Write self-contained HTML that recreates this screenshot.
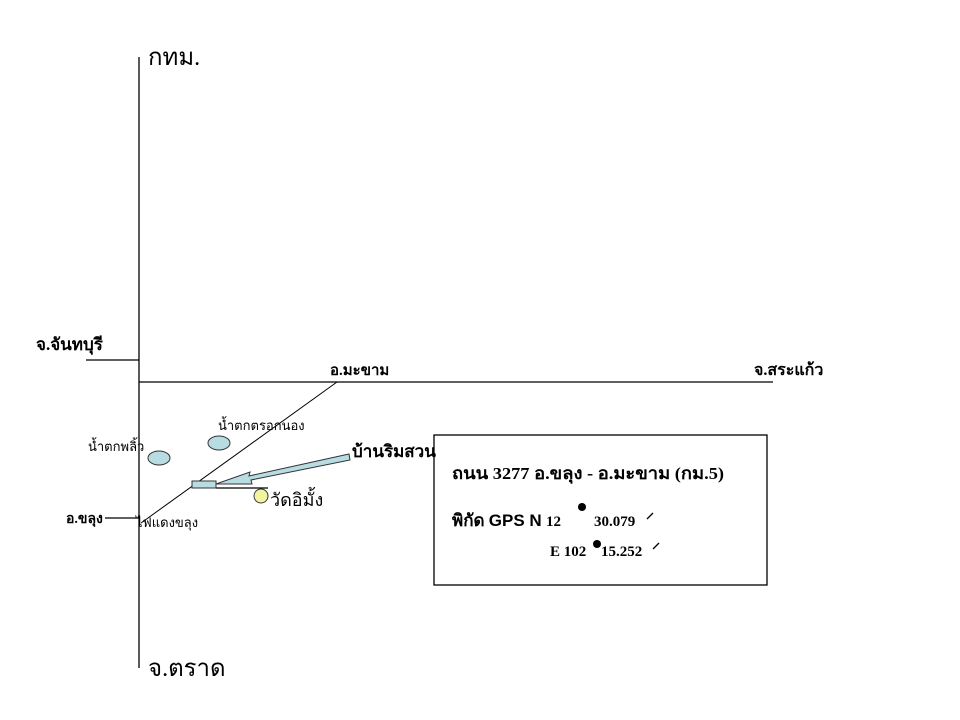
<!DOCTYPE html>
<html><head><meta charset="utf-8"><style>
html,body{margin:0;padding:0;background:#fff;width:960px;height:720px;overflow:hidden}
svg text{font-family:"Liberation Serif","Noto Serif CJK SC","Noto Sans CJK SC",serif;fill:#000}
</style></head><body>
<svg width="960" height="720" viewBox="0 0 960 720" xmlns="http://www.w3.org/2000/svg">
<g stroke="#000" stroke-width="1.3" fill="none">
<line x1="139" y1="57" x2="139" y2="668"/>
<line x1="139" y1="382" x2="773" y2="382"/>
<line x1="86" y1="360" x2="139" y2="360"/>
<line x1="105" y1="518" x2="139" y2="518"/>
<line x1="141" y1="523" x2="337" y2="382" stroke-width="1"/>
<line x1="216" y1="488" x2="268" y2="488"/>
<rect x="434" y="435" width="333" height="150"/>
</g>
<ellipse cx="159" cy="458" rx="11" ry="7" fill="#b7dde3" stroke="#333"/>
<ellipse cx="219" cy="443" rx="11" ry="7" fill="#b7dde3" stroke="#333"/>
<rect x="192" y="481" width="24" height="7" fill="#b7dde3" stroke="#333"/>
<circle cx="261" cy="496" r="7" fill="#f2f5a0" stroke="#333"/>
<polygon points="216,484 250,472 249,476 349,454 350,460 251,480 252,484" fill="#b7dde3" stroke="#333"/>
<text x="148" y="65" font-size="24">กทม.</text>
<text x="148" y="676" font-size="24">จ.ตราด</text>
<text x="36" y="350" font-size="17" font-weight="bold">จ.จันทบุรี</text>
<text x="330" y="375" font-size="15" font-weight="bold">อ.มะขาม</text>
<text x="754" y="375" font-size="16" font-weight="bold">จ.สระแก้ว</text>
<text x="218" y="430" font-size="13">น้ำตกตรอกนอง</text>
<text x="88" y="451" font-size="13">น้ำตกพลิ้ว</text>
<text x="352" y="457" font-size="17" font-weight="bold">บ้านริมสวน</text>
<text x="270" y="506" font-size="18">วัดอิมั้ง</text>
<text x="66" y="523" font-size="14" font-weight="bold">อ.ขลุง</text>
<text x="136" y="527" font-size="13">ไฟแดงขลุง</text>
<text x="452" y="479" font-size="17" font-weight="bold" textLength="272" lengthAdjust="spacingAndGlyphs">ถนน 3277 อ.ขลุง - อ.มะขาม (กม.5)</text>
<text x="452" y="526" font-size="17" font-weight="bold">พิกัด <tspan font-family="Liberation Sans">GPS  N</tspan> <tspan font-size="15">12</tspan></text>
<circle cx="582" cy="507" r="4" fill="#000"/>
<text x="594" y="526" font-size="15" font-weight="bold">30.079</text>
<line x1="647" y1="519" x2="653" y2="513" stroke="#000" stroke-width="1.3"/>
<text x="550" y="556" font-size="15" font-weight="bold">E 102</text>
<circle cx="597" cy="544" r="4" fill="#000"/>
<text x="601" y="556" font-size="15" font-weight="bold">15.252</text>
<line x1="653" y1="549" x2="659" y2="543" stroke="#000" stroke-width="1.3"/>
</svg>
</body></html>
